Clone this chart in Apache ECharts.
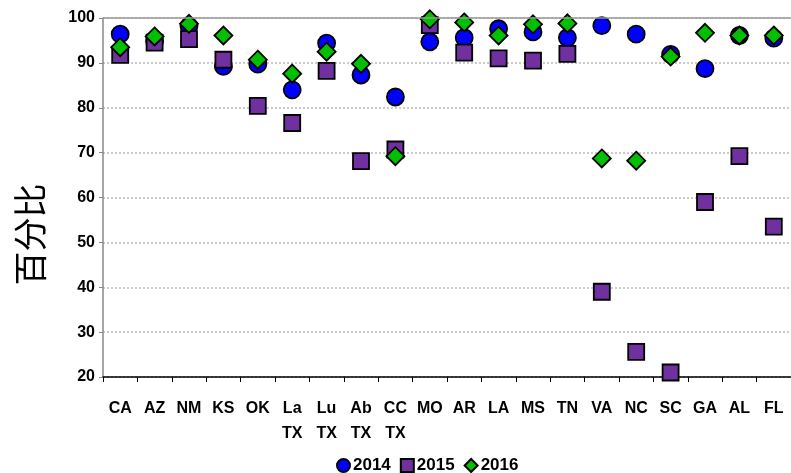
<!DOCTYPE html>
<html>
<head>
<meta charset="utf-8">
<script src="https://cdn.jsdelivr.net/npm/echarts@6/dist/echarts.min.js"></script>
<style>
  html, body { margin: 0; padding: 0; background: #fff; }
  #chart { width: 791px; height: 473px; }
</style>
</head>
<body>
<div id="chart"></div>
<script>
// 类别与各年份数据
const categories = ['CA', 'AZ', 'NM', 'KS', 'OK', 'La\nTX', 'Lu\nTX', 'Ab\nTX', 'CC\nTX', 'MO',
  'AR', 'LA', 'MS', 'TN', 'VA', 'NC', 'SC', 'GA', 'AL', 'FL']
const values2014 = [96.4, 94.8, 98.2, 89.2, 89.7, 84.0, 94.4, 87.3, 82.4, 94.7,
  95.6, 97.6, 96.9, 95.6, 98.3, 96.4, 91.9, 88.7, 96.1, 95.5]
const values2015 = [91.8, 94.5, 95.3, 90.7, 80.4, 76.6, 88.2, 68.1, 70.7, 98.4,
  92.3, 91.0, 90.5, 92.0, 39.0, 25.6, 21.0, 59.0, 69.2, 53.5]
const values2016 = [93.5, 95.9, 98.7, 96.1, 90.7, 87.6, 92.5, 89.8, 69.2, 99.7,
  99.0, 96.1, 98.6, 98.8, 68.7, 68.2, 91.4, 96.7, 96.1, 96.1]
const yTicks = { min: 20, max: 100, step: 10 }

const latinFont = '"Liberation Sans", Arial, sans-serif'

const chart = echarts.init(document.getElementById('chart'))

const makeSeries = (name, data, symbol, color, size) => ({
  name,
  type: 'scatter',
  data,
  symbol,
  symbolSize: size,
  itemStyle: {
    color,
    opacity: 1,
    borderColor: '#000',
    borderWidth: 1.8
  },
  emphasis: { disabled: true }
})

const option = {
  animation: false,
  backgroundColor: '#fff',
  grid: {
    left: 103,
    right: 0,
    top: 18,
    bottom: 96
  },
  legend: {
    left: 331,
    top: 452,
    itemWidth: 13,
    itemHeight: 13,
    itemGap: 9,
    textStyle: {
      fontFamily: latinFont,
      fontWeight: 'bold',
      fontSize: 17,
      color: '#000',
      padding: [0, 0, 0, -2]
    },
    data: [
      { name: '2014', icon: 'circle' },
      { name: '2015', icon: 'rect' },
      { name: '2016', icon: 'diamond' }
    ]
  },
  xAxis: {
    type: 'category',
    data: categories,
    boundaryGap: true,
    axisLine: { lineStyle: { color: '#000', width: 1.5 } },
    axisTick: { show: true, interval: 0, length: 5, lineStyle: { color: '#000' } },
    axisLabel: {
      interval: 0,
      margin: 19,
      color: '#000',
      fontFamily: latinFont,
      fontWeight: 'bold',
      fontSize: 16,
      lineHeight: 25
    },
    splitLine: { show: false }
  },
  yAxis: {
    type: 'value',
    min: yTicks.min,
    max: yTicks.max,
    interval: yTicks.step,
    name: '百分比',
    nameLocation: 'middle',
    nameGap: 56,
    nameTextStyle: {
      fontFamily: '"Noto Sans CJK SC", sans-serif',
      fontSize: 34,
      color: '#000',
      padding: [0, 0, 0, -74]
    },
    axisLine: { show: true, lineStyle: { color: '#888', width: 1.5 } },
    axisTick: { show: true, length: 4, lineStyle: { color: '#888' } },
    axisLabel: {
      margin: 8,
      color: '#000',
      fontFamily: latinFont,
      fontWeight: 'bold',
      fontSize: 16
    },
    splitLine: {
      show: true,
      lineStyle: { color: '#bbb', type: [2, 2], width: 1.5 }
    }
  },
  series: [
    Object.assign(makeSeries('2014', values2014, 'circle', '#0000ff', 17), {
      markLine: {
        silent: true,
        symbol: 'none',
        label: { show: false },
        lineStyle: { color: '#999', type: 'solid', width: 1.5 },
        data: [{ yAxis: yTicks.max }]
      }
    }),
    makeSeries('2015', values2015, 'rect', '#7030a0', 16),
    makeSeries('2016', values2016, 'diamond', '#00c000', [18, 18])
  ]
}

chart.setOption(option)
</script>
</body>
</html>
